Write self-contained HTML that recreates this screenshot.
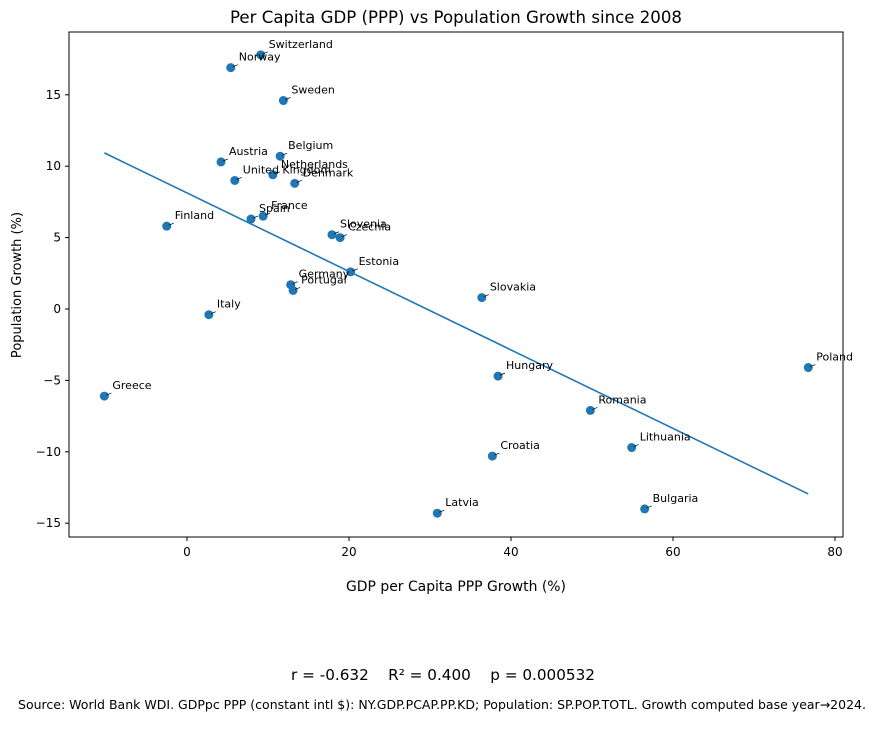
<!DOCTYPE html>
<html><head><meta charset="utf-8"><style>
body{margin:0;background:#fff;font-family:"Liberation Sans","DejaVu Sans",sans-serif;}
svg text{font-family:"DejaVu Sans","Liberation Sans",sans-serif;}
</style></head><body>
<svg id="chart" width="877" height="725" xmlns="http://www.w3.org/2000/svg">
<rect width="877" height="725" fill="#fff"/>
<text x="456" y="23" font-size="16.5" text-anchor="middle" textLength="452" lengthAdjust="spacingAndGlyphs">Per Capita GDP (PPP) vs Population Growth since 2008</text>
<g id="grid"></g>
<g id="plot"></g>
<rect x="69" y="32" width="774" height="505" fill="none" stroke="#000" stroke-width="1"/>
<text x="456" y="591" font-size="14" text-anchor="middle" textLength="220" lengthAdjust="spacingAndGlyphs">GDP per Capita PPP Growth (%)</text>
<text transform="translate(21,285) rotate(-90)" font-size="13" text-anchor="middle">Population Growth (%)</text>
<text x="443" y="680" font-size="15" text-anchor="middle" xml:space="preserve" textLength="304" lengthAdjust="spacingAndGlyphs">r = -0.632    R² = 0.400    p = 0.000532</text>
<text x="442" y="709" font-size="12.5" text-anchor="middle" textLength="848" lengthAdjust="spacingAndGlyphs">Source: World Bank WDI. GDPpc PPP (constant intl $): NY.GDP.PCAP.PP.KD; Population: SP.POP.TOTL. Growth computed base year→2024.</text>
</svg>
<script>
const countries=["Switzerland","Norway","Sweden","Belgium","Austria","Netherlands","United Kingdom","Denmark","Spain","France","Finland","Slovenia","Czechia","Estonia","Germany","Portugal","Italy","Slovakia","Hungary","Poland","Greece","Romania","Lithuania","Croatia","Latvia","Bulgaria"];
const gdpGrowth=[9.1,5.4,11.9,11.5,4.2,10.6,5.9,13.3,7.9,9.4,-2.5,17.9,18.9,20.2,12.8,13.1,2.7,36.4,38.4,76.7,-10.2,49.8,54.9,37.7,30.9,56.5];
const popGrowth=[17.8,16.9,14.6,10.7,10.3,9.4,9.0,8.8,6.3,6.5,5.8,5.2,5.0,2.6,1.7,1.3,-0.4,0.8,-4.7,-4.1,-6.1,-7.1,-9.7,-10.3,-14.3,-14.0];
const xTicks=[0,20,40,60,80];
const yTicks=[-15,-10,-5,0,5,10,15];
const NS="http://www.w3.org/2000/svg";
const X=v=>187+v*8.1;
const Y=v=>309-v*14.28;
const plot=document.getElementById('plot');
function mk(t,a,p){const e=document.createElementNS(NS,t);for(const k in a)e.setAttribute(k,a[k]);(p||plot).appendChild(e);return e;}
xTicks.forEach(t=>{
 const l=mk('line',{x1:X(t),x2:X(t),y1:537,y2:541,stroke:'#000'});
 
 
 const tx=mk('text',{x:X(t),y:556,'font-size':12,'text-anchor':'middle'});tx.textContent=t;
 
 
});
yTicks.forEach(t=>{
 const l=mk('line',{x1:65,x2:69,y1:Y(t),y2:Y(t),stroke:'#000'});
 
 
 const tx=mk('text',{x:61,y:Y(t)+4,'font-size':12,'text-anchor':'end'});tx.textContent=(t<0?'\u2212'+(-t):t);
 
 
});
const n=gdpGrowth.length;const mx=gdpGrowth.reduce((a,b)=>a+b)/n,my=popGrowth.reduce((a,b)=>a+b)/n;
let sxy=0,sxx=0;for(let i=0;i<n;i++){sxy+=(gdpGrowth[i]-mx)*(popGrowth[i]-my);sxx+=(gdpGrowth[i]-mx)**2;}
const b=sxy/sxx,a=my-b*mx;const xmin=Math.min(...gdpGrowth),xmax=Math.max(...gdpGrowth);
const rl=mk('line',{x1:X(xmin),y1:Y(a+b*xmin),x2:X(xmax),y2:Y(a+b*xmax),stroke:'#1f77b4','stroke-width':1.6});


for(let i=0;i<n;i++){
 const cx=X(gdpGrowth[i]),cy=Y(popGrowth[i]);
 const c=mk('circle',{cx:cx,cy:cy,r:4.5,fill:'#1f77b4'});
 
 
 const ld=mk('line',{x1:cx+2,y1:cy-1,x2:cx+7,y2:cy-3,stroke:'#000','stroke-width':0.7});
 
 
 const t=mk('text',{x:cx+8,y:cy-7,'font-size':11});t.textContent=countries[i];
 
 
}
</script>
</body></html>
